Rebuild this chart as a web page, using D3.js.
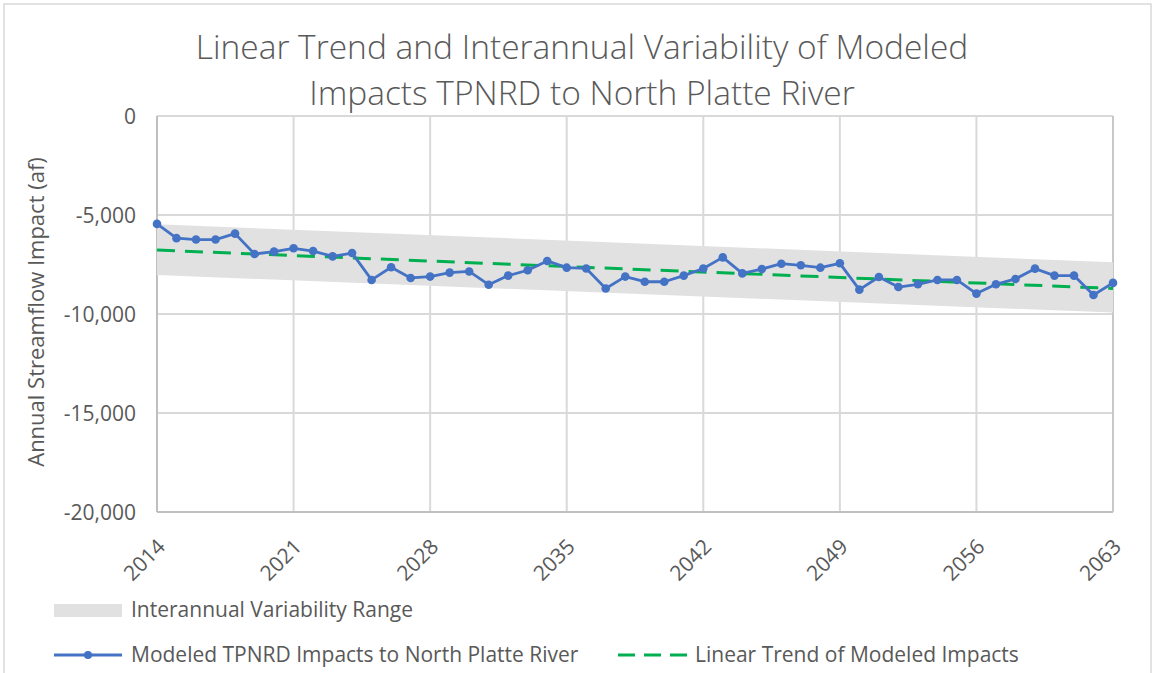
<!DOCTYPE html>
<html><head><meta charset="utf-8">
<script src="https://cdn.jsdelivr.net/npm/d3@7"></script>
<style>
html,body{margin:0;padding:0;background:#fff;}
svg{display:block;font-family:"Open Sans",sans-serif;}
</style></head>
<body>
<svg id="chart" width="1156" height="673"></svg>
<script>
// ---- data ----
const titleLines = ["Linear Trend and Interannual Variability of Modeled", "Impacts TPNRD to North Platte River"];
const yAxisTitle = "Annual Streamflow Impact (af)";
const years = [2014,2015,2016,2017,2018,2019,2020,2021,2022,2023,2024,2025,2026,2027,2028,2029,2030,2031,2032,2033,2034,2035,2036,2037,2038,2039,2040,2041,2042,2043,2044,2045,2046,2047,2048,2049,2050,2051,2052,2053,2054,2055,2056,2057,2058,2059,2060,2061,2062,2063];
const impacts = [-5450,-6170,-6240,-6240,-5940,-6970,-6850,-6680,-6820,-7090,-6920,-8280,
  -7640,-8180,-8110,-7910,-7850,-8520,-8060,-7790,-7320,-7660,-7700,-8710,-8110,
  -8370,-8370,-8060,-7700,-7140,-7950,-7730,-7460,-7540,-7660,-7440,-8770,
  -8130,-8640,-8500,-8280,-8280,-8970,-8500,-8230,-7710,-8060,-8060,-9040,-8430];
const trendYears = [2014, 2063];
const trendValues = [-6770, -8710];
const bandUpper = [-5470, -7390];
const bandLower = [-8030, -9930];
const xTickValues = [2014,2021,2028,2035,2042,2049,2056,2063];
const yTickValues = [0,-5000,-10000,-15000,-20000];
const legendLabels = ["Interannual Variability Range","Modeled TPNRD Impacts to North Platte River","Linear Trend of Modeled Impacts"];

// ---- layout ----
const svg = d3.select("#chart");
const plot = {left:157, right:1113, top:116, bottom:512};
const x = d3.scaleLinear().domain([2014,2063]).range([plot.left, plot.right]);
const y = d3.scaleLinear().domain([-20000,0]).range([plot.bottom, plot.top]);
const txt = "#595959", grid = "#d9d9d9", blue = "#4472c4", green = "#00b050", band = "#e1e1e1";
const locale = d3.formatLocale({decimal:".", thousands:",", grouping:[3], currency:["$",""], minus:"-"});

// chart outer border
svg.append("rect").attr("x",4).attr("y",4).attr("width",1147).attr("height",720)
  .attr("fill","none").attr("stroke","#d9d9d9").attr("stroke-width",1.5);

// title
svg.append("g").selectAll("text").data(titleLines).join("text")
  .attr("x",582).attr("y",(d,i)=>59+i*46).attr("text-anchor","middle")
  .attr("fill",txt).attr("font-size",33.5).attr("font-weight",300).text(d=>d);

// gridlines
svg.append("g").selectAll("line").data(yTickValues).join("line")
  .attr("x1",plot.left).attr("x2",plot.right).attr("y1",d=>y(d)).attr("y2",d=>y(d))
  .attr("stroke",grid).attr("stroke-width",2);
svg.append("g").selectAll("line").data(xTickValues).join("line")
  .attr("x1",d=>x(d)).attr("x2",d=>x(d)).attr("y1",plot.top).attr("y2",plot.bottom)
  .attr("stroke",grid).attr("stroke-width",2);
// axis lines
svg.append("line").attr("x1",plot.left).attr("x2",plot.left).attr("y1",plot.top).attr("y2",plot.bottom)
  .attr("stroke","#bfbfbf").attr("stroke-width",2);
svg.append("line").attr("x1",plot.left).attr("x2",plot.right).attr("y1",plot.bottom).attr("y2",plot.bottom)
  .attr("stroke","#bfbfbf").attr("stroke-width",2);
svg.append("line").attr("x1",plot.right).attr("x2",plot.right).attr("y1",plot.top).attr("y2",plot.bottom)
  .attr("stroke","#c8c8c8").attr("stroke-width",2);

// band
const bandData = trendYears.map((yr,i)=>({yr, hi:bandUpper[i], lo:bandLower[i]}));
svg.append("path").datum(bandData)
  .attr("d", d3.area().x(d=>x(d.yr)).y0(d=>y(d.lo)).y1(d=>y(d.hi)))
  .attr("fill",band);

// trend
const trendData = trendYears.map((yr,i)=>({yr, v:trendValues[i]}));
svg.append("path").datum(trendData)
  .attr("d", d3.line().x(d=>x(d.yr)).y(d=>y(d.v)))
  .attr("fill","none").attr("stroke",green).attr("stroke-width",3).attr("stroke-dasharray","18,10");

// series
const series = years.map((yr,i)=>({yr, v:impacts[i]}));
svg.append("path").datum(series)
  .attr("d", d3.line().x(d=>x(d.yr)).y(d=>y(d.v)))
  .attr("fill","none").attr("stroke",blue).attr("stroke-width",2.8).attr("stroke-linejoin","round");
svg.append("g").selectAll("circle").data(series).join("circle")
  .attr("cx",d=>x(d.yr)).attr("cy",d=>y(d.v)).attr("r",4.3).attr("fill",blue);

// y axis labels
const fmt = locale.format(",");
const yAxis = d3.axisLeft(y).tickValues(yTickValues).tickFormat(fmt).tickSize(0).tickPadding(0);
const gy = svg.append("g").attr("transform",`translate(136,0)`).call(yAxis);
gy.select(".domain").remove();
gy.selectAll("text").attr("fill",txt).attr("font-size",21).attr("font-family","Open Sans").attr("dy","0.35em");

// x axis labels
const xAxis = d3.axisBottom(x).tickValues(xTickValues).tickFormat(locale.format("d")).tickSize(0);
const gx = svg.append("g").attr("transform",`translate(0,${plot.bottom})`).call(xAxis);
gx.select(".domain").remove();
gx.selectAll("text").attr("fill",txt).attr("font-size",21).attr("font-family","Open Sans")
  .attr("text-anchor","end").attr("dy",0).attr("y",0)
  .attr("transform","translate(9,36) rotate(-45)");

// y axis title
svg.append("text").attr("transform","translate(44,312) rotate(-90)").attr("text-anchor","middle")
  .attr("fill",txt).attr("font-size",22).text(yAxisTitle);

// legend
const lg = svg.append("g");
lg.append("rect").attr("x",54).attr("y",604).attr("width",68).attr("height",13).attr("fill",band);
lg.append("text").attr("x",131).attr("y",617).attr("fill",txt).attr("font-size",21).text(legendLabels[0]);
lg.append("line").attr("x1",54).attr("x2",122).attr("y1",655).attr("y2",655).attr("stroke",blue).attr("stroke-width",2.8);
lg.append("circle").attr("cx",88).attr("cy",655).attr("r",4).attr("fill",blue);
lg.append("text").attr("x",131).attr("y",662).attr("fill",txt).attr("font-size",21).text(legendLabels[1]);
lg.append("line").attr("x1",618).attr("x2",688).attr("y1",655).attr("y2",655).attr("stroke",green).attr("stroke-width",3).attr("stroke-dasharray","17,9");
lg.append("text").attr("x",695).attr("y",662).attr("fill",txt).attr("font-size",21).text(legendLabels[2]);
</script>
</body></html>
